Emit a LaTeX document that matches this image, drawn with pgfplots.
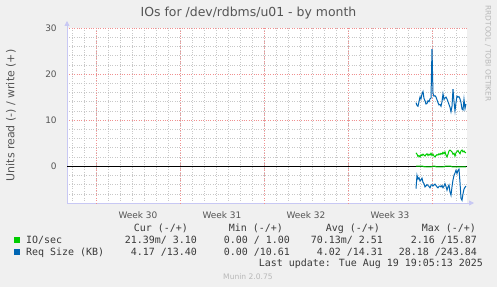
\documentclass[border=0pt]{standalone}
\usepackage{pgfplots}
\pgfplotsset{compat=1.18}
\usepackage{pgfplotstable}
\usepackage{fontspec}
\setmainfont{DejaVu Sans}
\newfontfamily\mono{DejaVu Sans Mono}
\usetikzlibrary{arrows.meta}
\definecolor{bg}{HTML}{F0F0F0}
\definecolor{mgreen}{HTML}{00CC00}
\definecolor{mblue}{HTML}{0066B3}
\definecolor{axc}{HTML}{C8C8F4}
\definecolor{txt}{HTML}{555555}
\definecolor{legtxt}{HTML}{3A3A3A}
\definecolor{majg}{HTML}{F09090}
\definecolor{ming}{HTML}{C8C8C8}

% x in units of 2 hours, 0 = start of week 30
\pgfplotstableread{
x wreq wio rreq rio
320 13.8 2.9 -4.9 0
321 13.2 2.6 -2.0 0
322 13.0 2.1 -2.8 0
323 14.0 2.3 -2.5 0
324 15.0 2.0 -3.2 0
325 14.6 2.5 -3.0 0
326 15.7 2.3 -2.6 0
327 16.2 2.6 -3.5 -0.02
328 14.7 2.4 -3.8 -0.15
329 14.2 2.2 -4.5 -0.12
330 13.5 2.5 -4.3 -0.15
331 13.6 2.7 -4.0 -0.14
332 14.2 2.3 -4.2 -0.15
333 14.0 2.6 -4.4 -0.13
334 14.6 2.4 -4.7 -0.15
335 14.8 2.8 -4.2 -0.15
336 25.4 2.3 -4.0 -0.12
337 15.8 2.6 -4.3 -0.02
338 15.2 2.2 -4.1 0
339 15.3 2.0 -3.9 0
340 15.0 2.3 -4.2 -0.15
341 14.4 2.5 -4.5 -0.14
342 13.8 2.4 -4.7 -0.15
343 13.3 2.7 -4.4 -0.13
344 13.4 2.5 -4.3 -0.15
345 13.0 2.8 -4.5 -0.15
346 14.0 2.6 -4.2 -0.14
347 15.7 3.0 -4.7 -0.15
348 14.5 2.7 -4.3 -0.12
349 14.8 3.1 -3.8 -0.02
350 15.0 2.4 -4.4 0
351 14.6 2.0 -5.2 0
352 14.0 2.6 -4.5 0
353 13.4 3.3 -4.1 -0.02
354 12.8 3.5 -5.6 0
355 11.8 3.3 -6.3 -0.02
356 13.0 3.1 -4.5 -0.15
357 16.7 2.6 -3.0 -0.14
358 14.0 2.8 -2.0 -0.15
359 12.0 2.2 -1.5 -0.13
360 13.8 2.9 -0.9 -0.15
361 15.2 3.2 -1.6 -0.15
362 15.0 3.4 -0.9 -0.14
363 15.1 3.0 -0.65 -0.15
364 14.6 2.7 -3.5 -0.13
365 13.8 3.3 -7.0 -0.15
366 12.4 3.5 -7.4 -0.15
367 12.2 3.1 -6.0 -0.14
368 14.5 3.3 -5.0 -0.15
369 12.5 3.0 -4.6 -0.15
370 13.5 2.9 -4.3 -0.14
}\data

\begin{document}
\begin{tikzpicture}
\fill[bg] (0,0) rectangle (497bp,287bp);
\useasboundingbox (0,0) rectangle (497bp,287bp);
\begin{axis}[
  at={(67bp,84bp)}, anchor=south west,
  scale only axis, width=400bp, height=175bp,
  xmin=-29, xmax=371, ymin=-8, ymax=30,
  axis x line=bottom, axis y line=left,
  axis line style={draw=axc, line width=0.8pt},
  x axis line style={-{Triangle[length=5bp,width=5bp]}, shorten >=-7bp},
  y axis line style={-{Triangle[length=5bp,width=5bp]}, shorten >=-7bp},
  axis background/.style={fill=white},
  xtick={42,126,210,294},
  xticklabels={Week 30,Week 31,Week 32,Week 33},
  minor xtick={-24,-12,...,360},
  extra x ticks={0,84,168,252,336},
  extra x tick labels={},
  extra x tick style={xmajorgrids=true, xminorgrids=false, minor xtick={},
    major grid style={majg, dotted, line width=0.5pt}},
  ytick={0,10,20,30},
  minor ytick={-8,-6,...,28},
  ymajorgrids, xminorgrids, yminorgrids,
  major grid style={majg, dotted, line width=0.5pt},
  minor grid style={ming, dotted, line width=0.5pt},
  tick style={draw=none},
  tick label style={font=\fontsize{9}{9}\selectfont, text=txt},
  /pgf/number format/assume math mode=true,
  yticklabel style={anchor=east, inner sep=0pt, xshift=-8bp},
  xticklabel style={anchor=north, inner sep=0pt, yshift=-6bp},
  ylabel={Units read (-) / write (+)},
  y label style={at={(axis description cs:-0.14,0.5)}, anchor=center, font=\fontsize{11}{11}\selectfont, text=txt},
  title={IOs for /dev/rdbms/u01 - by month},
  title style={at={(axis description cs:0.45375,1.0343)}, anchor=base, font=\fontsize{12.5}{12.5}\selectfont, text=txt, inner sep=0pt},
  clip=false,
]
\addplot[black, line width=0.9pt] coordinates {(-29,0) (371,0)};
\addplot[mgreen, line width=1bp] table[x=x, y=wio] {\data};
\addplot[mgreen, line width=1bp] table[x=x, y=rio] {\data};
\addplot[mblue, line width=1bp] table[x=x, y=wreq] {\data};
\addplot[mblue, line width=1bp] table[x=x, y=rreq] {\data};
\end{axis}

\begin{scope}[every node/.style={inner sep=0pt, font=\mono\fontsize{10}{10}\selectfont, text=legtxt}]
\node[anchor=base east] at (188bp,55.4bp) {Cur (-/+)};
\node[anchor=base east] at (283bp,55.4bp) {Min (-/+)};
\node[anchor=base east] at (380bp,55.4bp) {Avg (-/+)};
\node[anchor=base east] at (476bp,55.4bp) {Max (-/+)};
\fill[mgreen] (14bp,43.7bp) rectangle (20bp,49.7bp);
\node[anchor=base west] at (26bp,43.7bp) {IO/sec};
\node[anchor=base east] at (197bp,43.7bp) {21.39m/ 3.10};
\node[anchor=base east] at (290bp,43.7bp) {0.00 / 1.00};
\node[anchor=base east] at (383bp,43.7bp) {70.13m/ 2.51};
\node[anchor=base east] at (477bp,43.7bp) {2.16 /15.87};
\fill[mblue] (14bp,32bp) rectangle (20bp,38bp);
\node[anchor=base west] at (26bp,32bp) {Req Size (KB)};
\node[anchor=base east] at (197bp,32bp) {4.17 /13.40};
\node[anchor=base east] at (290bp,32bp) {0.00 /10.61};
\node[anchor=base east] at (383bp,32bp) {4.02 /14.31};
\node[anchor=base east] at (477bp,32bp) {28.18 /243.84};
\node[anchor=base east] at (483bp,20.4bp) {Last update: Tue Aug 19 19:05:13 2025};
\end{scope}
\node[inner sep=0pt, anchor=base, font=\fontsize{7.6}{7.6}\selectfont, text=black!28] at (248bp,8bp) {Munin 2.0.75};
\node[inner sep=0pt, anchor=center, rotate=-90, font=\fontsize{7.5}{7.5}\selectfont, text=black!28] at (488bp,233.5bp) {RRDTOOL / TOBI OETIKER};
\end{tikzpicture}
\end{document}
